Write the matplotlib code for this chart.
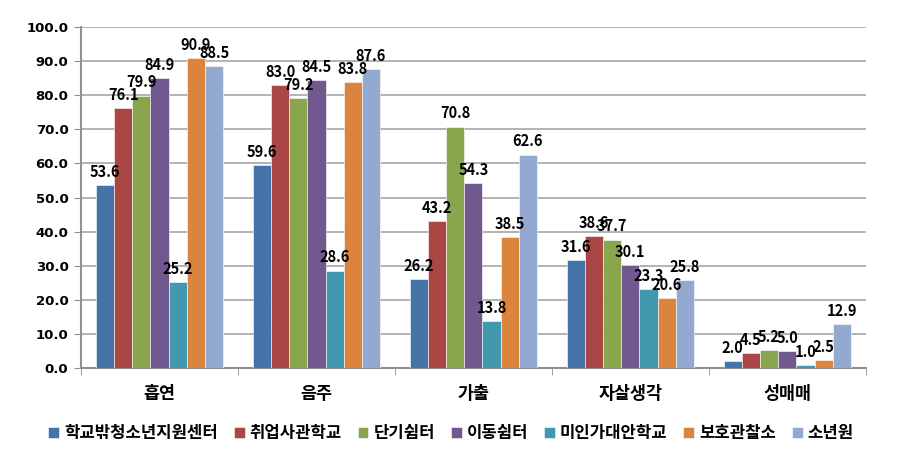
import numpy as np
import matplotlib.pyplot as plt

plt.rcParams['font.family'] = ['Noto Sans CJK KR', 'DejaVu Sans']

categories = ["흡연", "음주", "가출", "자살생각", "성매매"]
series_names = ["학교밖청소년지원센터", "취업사관학교", "단기쉼터", "이동쉼터",
                "미인가대안학교", "보호관찰소", "소년원"]
values = [
    [53.6, 59.6, 26.2, 31.6, 2.0],
    [76.1, 83.0, 43.2, 38.6, 4.5],
    [79.9, 79.2, 70.8, 37.7, 5.2],
    [84.9, 84.5, 54.3, 30.1, 5.0],
    [25.2, 28.6, 13.8, 23.3, 1.0],
    [90.9, 83.8, 38.5, 20.6, 2.5],
    [88.5, 87.6, 62.6, 25.8, 12.9],
]
colors = ["#4572A7", "#AA4643", "#89A54E", "#71588F", "#4198AF", "#DB843D", "#93A9CF"]

fig = plt.figure(figsize=(9.02, 4.49), dpi=100)
ax = fig.add_axes([0.0898, 0.180, 0.870, 0.760])

x = np.arange(len(categories))
n = len(series_names)
bw = 0.116
for i, (name, vals) in enumerate(zip(series_names, values)):
    pos = x + (i - (n - 1) / 2) * bw
    ax.bar(pos, vals, bw, color=colors[i], label=name, zorder=3,
           edgecolor="white", linewidth=0.4)
    for px, v in zip(pos, vals):
        ax.text(px, v + 1.5, f"{v:.1f}", ha="center", va="bottom",
                fontsize=10.5, fontweight="bold", color="black", zorder=4)

ax.set_xlim(-0.5, len(categories) - 0.5)
ax.set_ylim(0, 100)
ax.set_yticks(np.arange(0, 101, 10))
ax.set_yticklabels([f"{t:.1f}" for t in range(0, 101, 10)],
                   fontsize=9.5, fontweight="bold", family="DejaVu Sans")
ax.set_xticks(x)
ax.set_xticklabels(categories, fontsize=12.5, fontweight="bold")
ax.tick_params(axis="x", length=0, pad=12)
ax.set_xticks(np.arange(-0.5, len(categories), 1), minor=True)
ax.tick_params(axis="x", which="minor", length=5, color="#909090")
ax.tick_params(axis="y", length=5, color="#909090", pad=4)

ax.grid(axis="y", color="#A6A6A6", linewidth=1.2, zorder=0)
for s in ["top", "right"]:
    ax.spines[s].set_visible(False)
ax.spines["left"].set_color("#909090")
ax.spines["left"].set_linewidth(1.5)
ax.spines["bottom"].set_color("#909090")
ax.spines["bottom"].set_linewidth(1.5)

leg = fig.legend(loc="lower center", bbox_to_anchor=(0.5, -0.018), ncol=7,
                 frameon=False, handlelength=0.65, handleheight=0.65,
                 handletextpad=0.3, columnspacing=0.95,
                 prop={"size": 12, "weight": "bold"})

fig.savefig("out.png", dpi=100)
